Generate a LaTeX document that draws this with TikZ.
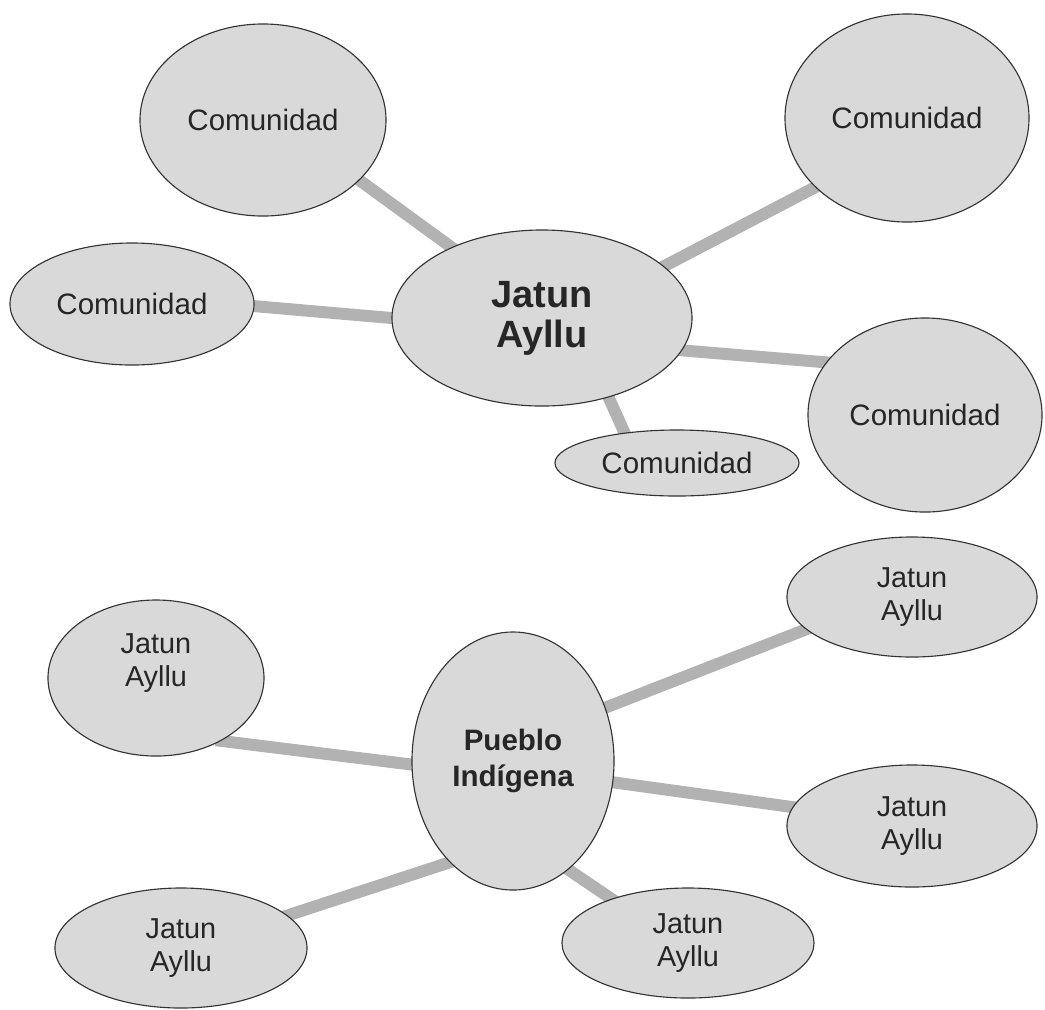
\documentclass[tikz,border=0pt]{standalone}
\usepackage{fontspec}
\setmainfont{Liberation Sans}
\usepackage{tikz}
\usetikzlibrary{shapes.geometric,backgrounds}

\begin{document}
\begin{tikzpicture}[x=0.025cm, y=-0.025cm,
    blob/.style={ellipse, draw=black!80, line width=0.8pt, fill=black!15,
      inner sep=0pt, text=black!85, align=center,
      font=\fontsize{21}{23}\selectfont},
    hub/.style={blob, font=\bfseries\fontsize{27}{28.5}\selectfont},
    ayllu/.style={blob, font=\fontsize{20.5}{23}\selectfont},
    bar/.style={line width=8.5pt, draw=black!30, shorten <=-4pt, shorten >=-4pt}]
  \useasboundingbox (0,0) rectangle (1045,1009);

  % Jatun Ayllu and its comunidades
  \node[hub, minimum width=7.5cm, minimum height=4.4cm] (ja) at (542,318) {Jatun\\Ayllu};
  \node[blob, minimum width=6.15cm, minimum height=4.8cm] (ctl) at (263,120) {Comunidad};
  \node[blob, minimum width=6.1cm, minimum height=5.2cm] (ctr) at (907,118) {Comunidad};
  \node[blob, minimum width=6.1cm, minimum height=3.05cm] (cl) at (132,304) {Comunidad};
  \node[blob, minimum width=5.85cm, minimum height=4.85cm] (cr) at (925,415) {Comunidad};
  \node[blob, minimum width=6.1cm, minimum height=1.65cm] (cs) at (677,463) {Comunidad};

  % Pueblo Indigena and its jatun ayllus
  \node[hub, font=\bfseries\fontsize{21}{26}\selectfont,
        minimum width=5.05cm, minimum height=6.45cm] (pi) at (513,761) {Pueblo\\Indígena};
  \node[ayllu, minimum width=5.4cm, minimum height=3.9cm,
        label={[ayllu, draw=none, fill=none, yshift=0.375cm]center:Jatun\\Ayllu}] (jl) at (156,678) {};
  \node[ayllu, minimum width=6.25cm, minimum height=3cm] (jtr) at (912,597) {Jatun\\Ayllu};
  \node[ayllu, minimum width=6.25cm, minimum height=3.05cm] (jr) at (912,826) {Jatun\\Ayllu};
  \node[ayllu, minimum width=6.3cm, minimum height=3cm] (jbl) at (181,948) {Jatun\\Ayllu};
  \node[ayllu, minimum width=6.3cm, minimum height=2.75cm] (jb) at (688,943) {Jatun\\Ayllu};

  \begin{scope}[on background layer]
    \foreach \from/\to in {ctl.-32/ja.142, cl.-1/ja.180, ja.23/ctr.217,
        ja.-13/cr.152, ja.-50/cs.150,
        jl.-44/pi.182, jbl.17/pi.238, pi.30/jtr.197, pi.-12/jr.171, pi.-63/jb.150}
      \draw[bar] (\from) -- (\to);
  \end{scope}
\end{tikzpicture}
\end{document}
